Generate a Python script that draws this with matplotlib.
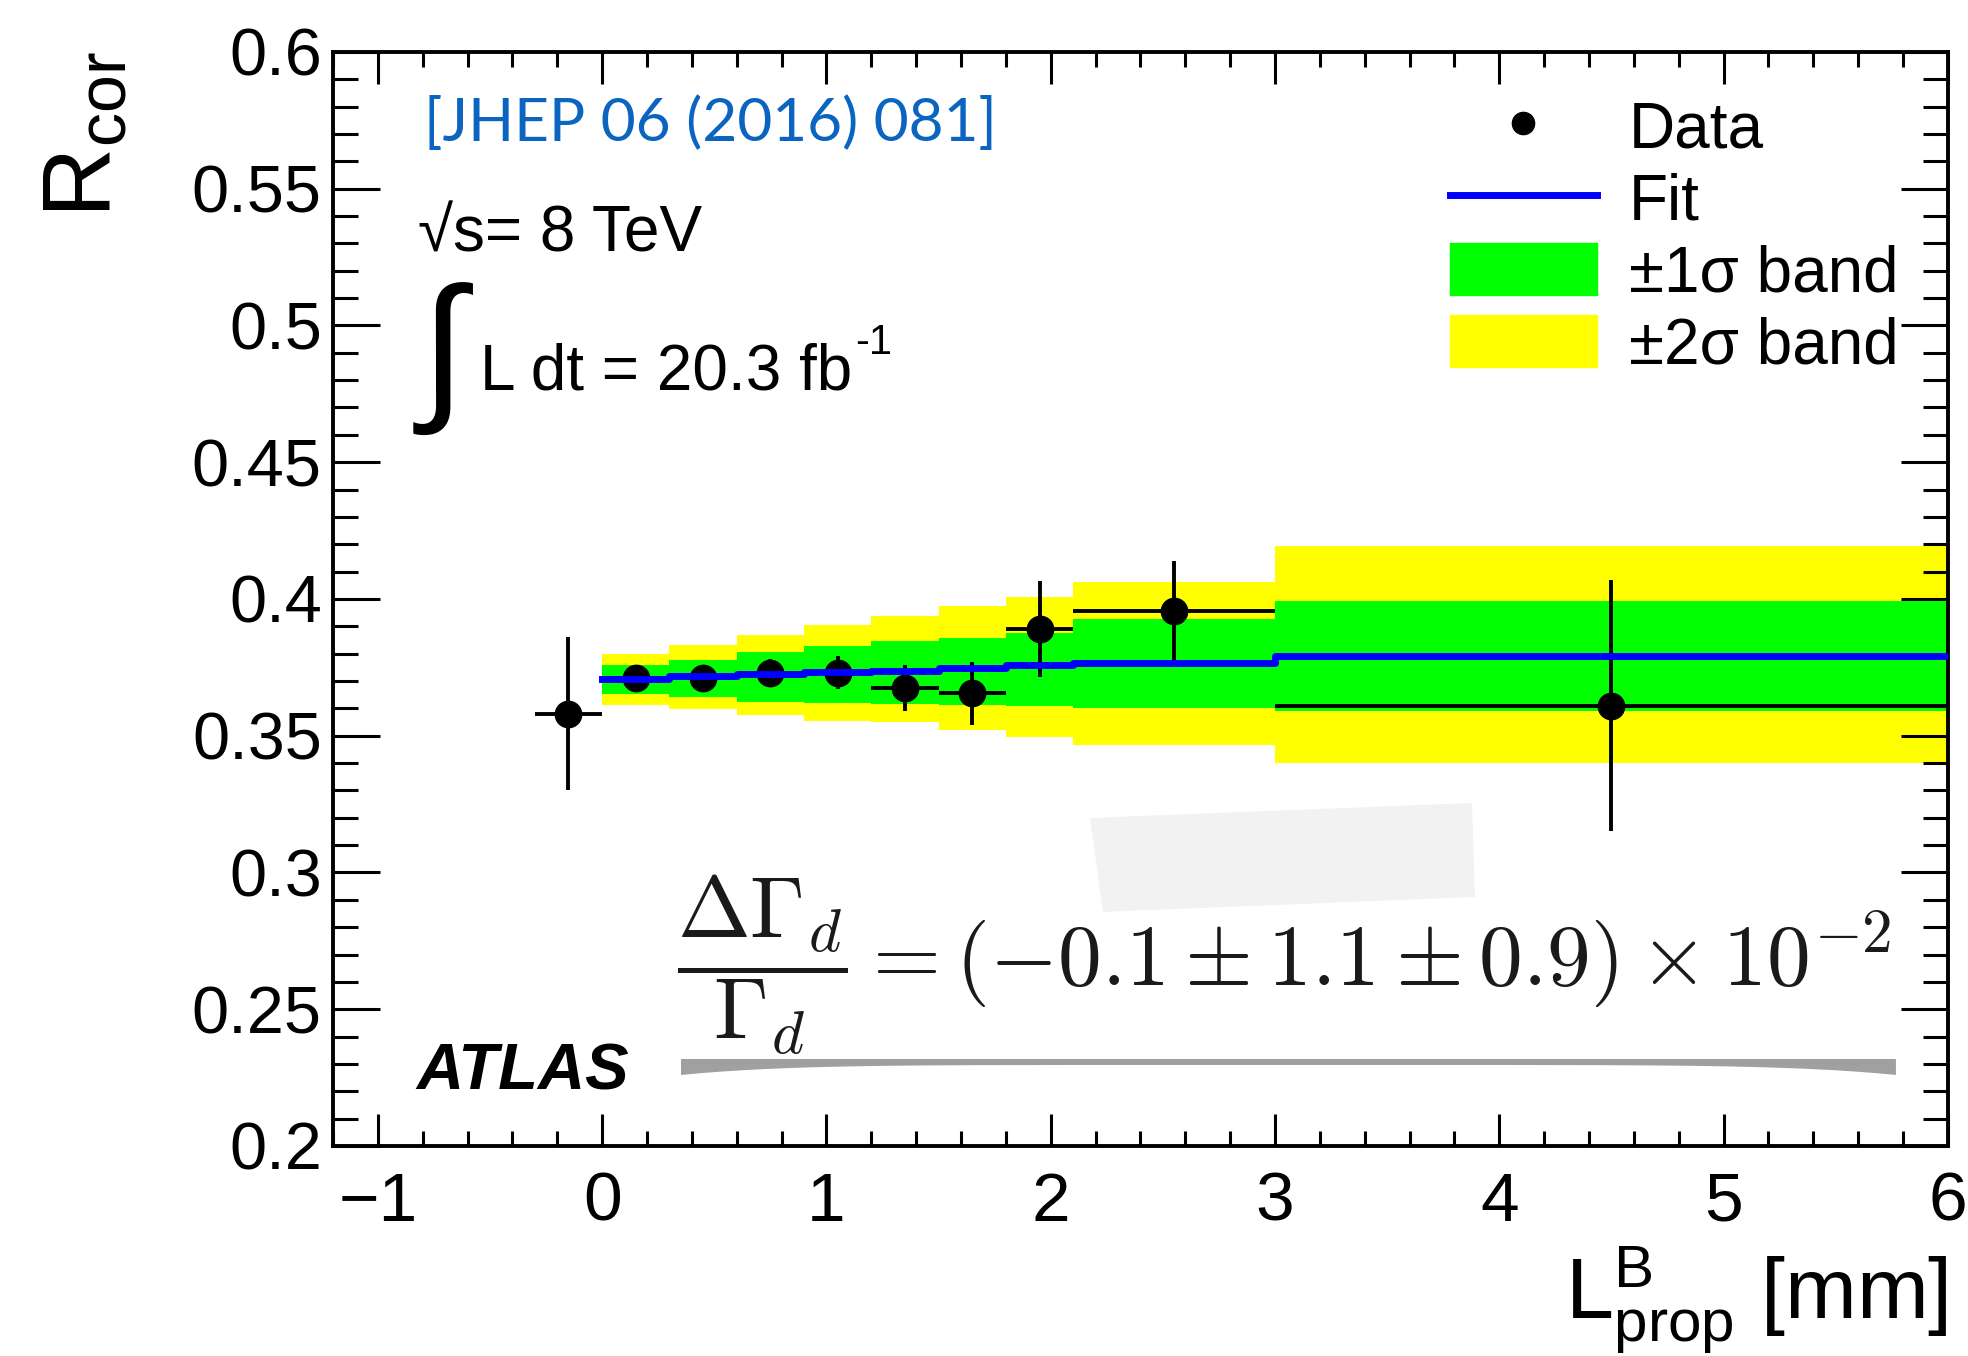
import numpy as np
import matplotlib.pyplot as plt
from matplotlib.lines import Line2D
from matplotlib.patches import Patch, Polygon
from matplotlib.ticker import MultipleLocator, FormatStrFormatter

plt.rcParams['font.family'] = ['Liberation Sans', 'DejaVu Sans']
plt.rcParams['mathtext.fontset'] = 'custom'
plt.rcParams['mathtext.rm'] = 'Liberation Sans'
plt.rcParams['mathtext.it'] = 'Liberation Sans:italic'
plt.rcParams['mathtext.bf'] = 'Liberation Sans:bold'

# measured points (bin centres, half widths)
l_data = [-0.15, 0.15, 0.45, 0.75, 1.05, 1.35, 1.65, 1.95, 2.55, 4.5]
l_half = [0.15, 0.15, 0.15, 0.15, 0.15, 0.15, 0.15, 0.15, 0.45, 1.5]
r_data = [0.358, 0.371, 0.371, 0.373, 0.373, 0.3675, 0.3655, 0.389, 0.3955, 0.361]
r_err = [0.028, 0.005, 0.005, 0.005, 0.006, 0.0085, 0.0115, 0.0175, 0.0185, 0.046]

# fit and uncertainty bands, per bin
fit_edges = [0.0, 0.3, 0.6, 0.9, 1.2, 1.5, 1.8, 2.1, 3.0, 6.0]
fit_val = [0.3708, 0.3717, 0.3725, 0.3733, 0.3738, 0.3747, 0.3757, 0.3767, 0.3791]
s1_hi = [0.3757, 0.3778, 0.3806, 0.3827, 0.3845, 0.3857, 0.3876, 0.3928, 0.3994]
s1_lo = [0.3652, 0.3640, 0.3625, 0.3619, 0.3615, 0.3613, 0.3607, 0.3603, 0.3592]
s2_hi = [0.3799, 0.3833, 0.3867, 0.3904, 0.3937, 0.3974, 0.4007, 0.4061, 0.4192]
s2_lo = [0.3613, 0.3598, 0.3576, 0.3554, 0.3550, 0.3521, 0.3497, 0.3465, 0.3399]

def stepped(v):
    return np.append(v, v[-1])

fig = plt.figure(figsize=(19.68, 13.56), dpi=100)
ax = fig.add_axes([0.1692, 0.1549, 0.8206, 0.8068])

ax.fill_between(fit_edges, stepped(s2_lo), stepped(s2_hi), step='post',
                color='#ffff00', lw=0, zorder=1)
ax.fill_between(fit_edges, stepped(s1_lo), stepped(s1_hi), step='post',
                color='#00ff00', lw=0, zorder=2)
ax.errorbar(l_data, r_data, xerr=l_half, yerr=r_err, fmt='o', color='k',
            ms=19, elinewidth=2.8, capsize=0, zorder=3)
ax.step(fit_edges, stepped(fit_val), where='post', color='#0000ff', lw=5, zorder=4)

ax.set_xlim(-1.2, 6.0)
ax.set_ylim(0.2, 0.6)
ax.xaxis.set_major_locator(MultipleLocator(1))
ax.xaxis.set_minor_locator(MultipleLocator(0.2))
ax.yaxis.set_major_locator(MultipleLocator(0.05))
ax.yaxis.set_minor_locator(MultipleLocator(0.01))
ax.yaxis.set_major_formatter(FormatStrFormatter('%g'))
for s in ax.spines.values():
    s.set_linewidth(2.8)
ax.tick_params(axis='both', which='both', direction='in', top=True, right=True, width=2.2)
ax.tick_params(axis='y', which='major', length=34, labelsize=48, pad=8)
ax.tick_params(axis='y', which='minor', length=18)
ax.tick_params(axis='x', which='major', length=23, labelsize=50, pad=18)
ax.tick_params(axis='x', which='minor', length=11)

ax.set_ylabel(r'R$_{\mathrm{cor}}$', fontsize=70, loc='top')
ax.yaxis.set_label_coords(-0.125, 1.0)
ax.set_xlabel(r'L$^{\mathrm{B}}_{\mathrm{prop}}$ [mm]', fontsize=62, loc='right')
ax.xaxis.set_label_coords(1.0, -0.09)

# labels
ax.text(-0.794, 0.5675, '[JHEP 06 (2016) 081]', color='#0a64c0', fontsize=43.5,
        family=['Lato', 'DejaVu Sans'])
ax.text(-0.82, 0.527, '\u221as= 8 TeV', fontsize=46)
ax.text(-0.81, 0.5155, '\u222b', fontsize=116, va='top', family=['Liberation Sans', 'DejaVu Sans'])
ax.text(-0.544, 0.4764, 'L dt = 20.3 fb', fontsize=46)
ax.text(1.13, 0.4896, '-1', fontsize=30)
ax.text(-0.829, 0.2208, 'ATLAS', fontsize=47, fontweight='bold', fontstyle='italic')
ax.text(0.333, 0.2659, r'$\dfrac{\Delta\Gamma_d}{\Gamma_d} = (-0.1 \pm 1.1 \pm 0.9) \times 10^{-2}$',
        fontsize=63, math_fontfamily='cm', va='center', color='#1a1a1a')

# pasted-over patch and shadow strip
ax.add_patch(Polygon([(0.4687, 0.2998), (0.7053, 0.3135), (0.7071, 0.2276), (0.4768, 0.2139)],
                     closed=True, transform=ax.transAxes, color='#f2f2f2', lw=0, zorder=0))
sx = np.linspace(0.2155, 0.9678, 60)
sb = 0.074 - 0.0091 * ((sx - 0.5917) / 0.3762) ** 6
shadow = np.vstack([np.c_[sx, np.full_like(sx, 0.0795)], np.c_[sx[::-1], sb[::-1]]])
ax.add_patch(Polygon(shadow, closed=True, transform=ax.transAxes, color='#a0a0a0', lw=0, zorder=0))

handles = [Line2D([], [], marker='o', color='k', ls='none', ms=16),
           Line2D([], [], color='#0000ff', lw=5),
           Patch(color='#00ff00'), Patch(color='#ffff00')]
labels = ['Data', 'Fit', '\u00b11\u03c3 band', '\u00b12\u03c3 band']
ax.legend(handles, labels, loc='upper left', bbox_to_anchor=(0.6916, 0.957), fontsize=46,
          frameon=False, borderpad=0, borderaxespad=0, handlelength=2.3, handleheight=0.88,
          handletextpad=0.5, labelspacing=0.17)

fig.savefig('out.png', dpi=100)
